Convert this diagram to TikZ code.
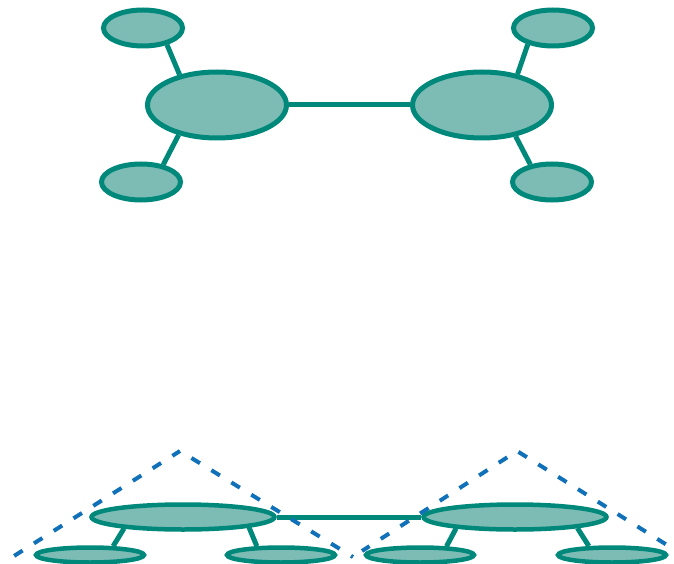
\documentclass[tikz,border=0pt]{standalone}
\usetikzlibrary{shapes.geometric}
\definecolor{tealline}{HTML}{00897B}
\definecolor{tealfill}{HTML}{7DBBB5}
\definecolor{dashblue}{HTML}{1071B8}
\tikzset{
  blob/.style={ellipse,draw=tealline,fill=tealfill,line width=5pt,inner sep=0pt},
  bigblob/.style={blob,minimum width=139pt,minimum height=66pt},
  smallblob/.style={blob,minimum width=79pt,minimum height=36pt},
  flatbig/.style={blob,line width=4.5pt,minimum width=183pt,minimum height=25pt},
  flatsmall/.style={blob,line width=4.5pt,minimum width=108pt,minimum height=15pt},
  bond/.style={draw=tealline,line width=5pt},
  hull/.style={draw=dashblue,line width=4pt,dash pattern=on 10pt off 13.4pt}
}
\begin{document}
\begin{tikzpicture}[x=1pt,y=-1pt]
  \useasboundingbox (0,0) rectangle (674,564);
  % Arriba
  \node[bigblob] (bigL) at (217,105) {};
  \node[bigblob] (bigR) at (482,105) {};
  \node[smallblob] (topL) at (143,28) {};
  \node[smallblob] (botL) at (141,182) {};
  \node[smallblob] (topR) at (553,28) {};
  \node[smallblob] (botR) at (552,182) {};
  \draw[bond] (bigL) -- (bigR);
  \draw[bond] (topL.-35) -- (bigL.141);
  \draw[bond] (botL.38) -- (bigL.218);
  \draw[bond] (topR.213) -- (bigR.41);
  \draw[bond] (botR.141) -- (bigR.-43);
  % Abajo
  \node[flatbig] (flatL) at (183,517) {};
  \node[flatbig] (flatR) at (515,517) {};
  \node[flatsmall] (leafA) at (90,555) {};
  \node[flatsmall] (leafB) at (281,555) {};
  \node[flatsmall] (leafC) at (420,555) {};
  \node[flatsmall] (leafD) at (612,555) {};
  \draw[bond] (flatL) -- (flatR);
  \draw[bond] (leafA.21) -- (flatL.191);
  \draw[bond] (leafB.160) -- (flatL.-9);
  \draw[bond] (leafC.18) -- (flatR.191);
  \draw[bond] (leafD.159) -- (flatR.-10);
  % Triangulos
  \coordinate (apexL) at (180,451);
  \coordinate (apexR) at (517,451);
  \draw[hull,dash phase=1pt] (apexL) -- (14,556);
  \draw[hull,dash phase=10pt] (apexL) -- (353,557);
  \draw[hull,dash phase=11.7pt] (apexR) -- (362,551);
  \draw[hull,dash phase=21.7pt] (apexR) -- (667,545);
\end{tikzpicture}
\end{document}
